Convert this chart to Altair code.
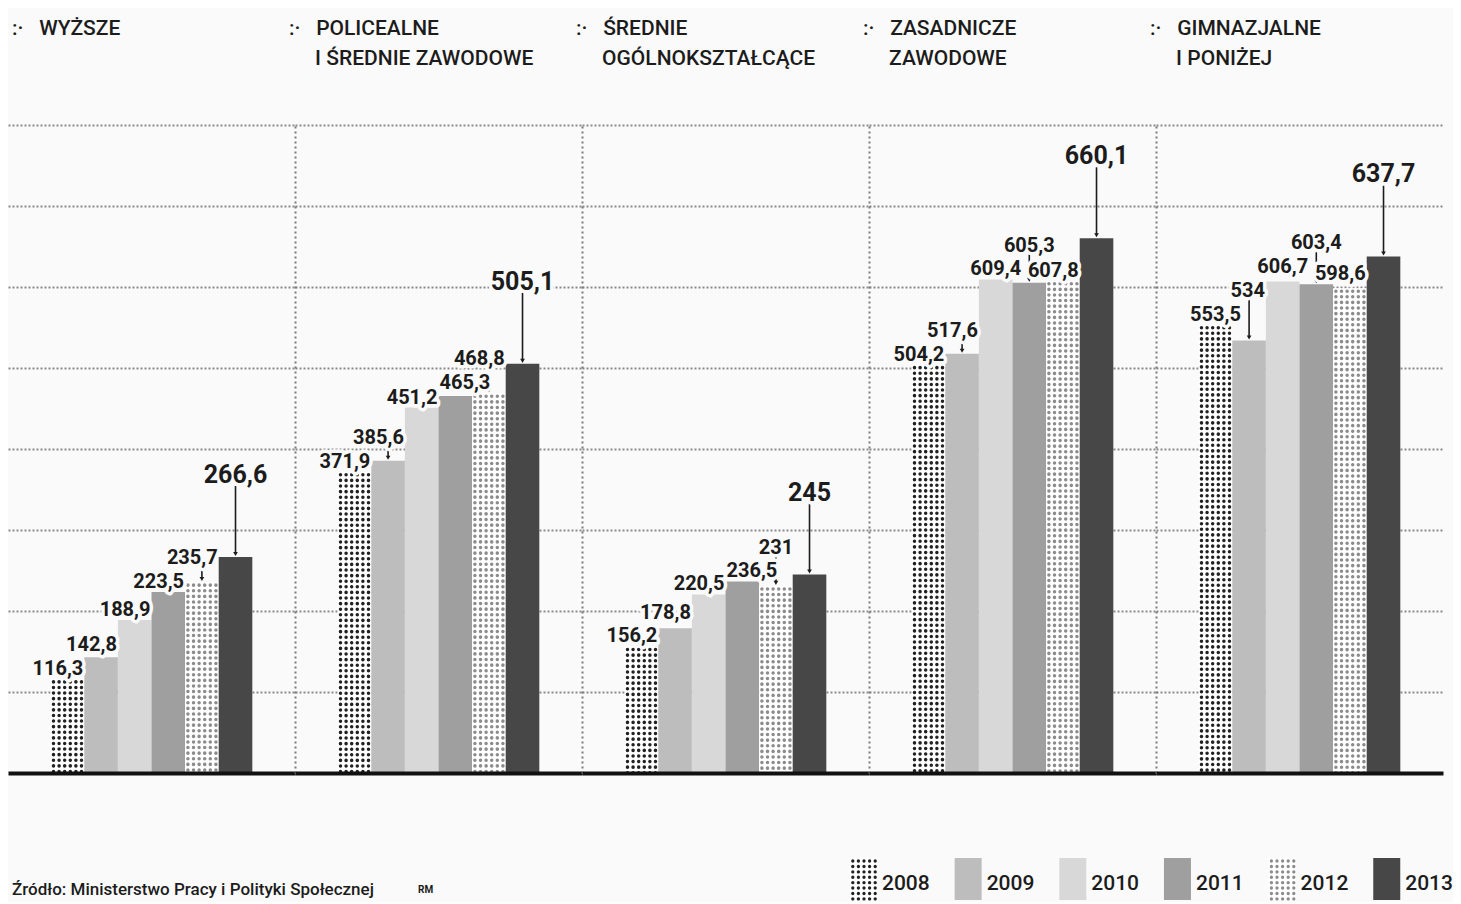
import altair as alt
import pandas as pd

# ---------------- data ----------------
categories = ["WYŻSZE", "POLICEALNE I ŚREDNIE ZAWODOWE", "ŚREDNIE OGÓLNOKSZTAŁCĄCE",
              "ZASADNICZE ZAWODOWE", "GIMNAZJALNE I PONIŻEJ"]
title_lines = [["WYŻSZE"], ["POLICEALNE", "I ŚREDNIE ZAWODOWE"], ["ŚREDNIE", "OGÓLNOKSZTAŁCĄCE"],
               ["ZASADNICZE", "ZAWODOWE"], ["GIMNAZJALNE", "I PONIŻEJ"]]
years = ["2008", "2009", "2010", "2011", "2012", "2013"]
val_wyzsze = [116.3, 142.8, 188.9, 223.5, 235.7, 266.6]
val_policealne = [371.9, 385.6, 451.2, 465.3, 468.8, 505.1]
val_srednie = [156.2, 178.8, 220.5, 236.5, 231.0, 245.0]
val_zasadnicze = [504.2, 517.6, 609.4, 605.3, 607.8, 660.1]
val_gimnazjalne = [553.5, 534.0, 606.7, 603.4, 598.6, 637.7]
series = [val_wyzsze, val_policealne, val_srednie, val_zasadnicze, val_gimnazjalne]
y_ticks = [100, 200, 300, 400, 500, 600, 700, 800]
source_text = "Źródło: Ministerstwo Pracy i Polityki Społecznej"
credit_text = "RM"

# ---------------- style ----------------
FONT = "Roboto, Liberation Sans, sans-serif"
BG = "#fafafa"
INK = "#1c1c1c"
fills = {"2008": "#ffffff", "2009": "#bdbdbd", "2010": "#d8d8d8",
         "2011": "#9f9f9f", "2012": "#ffffff", "2013": "#474747"}
dot_colors = {"2008": "#222222", "2012": "#8c8c8c"}
PANEL_W = 287
PLOT_H = 648
Y_MAX = 800
PAD_OUTER = 0.27          # outer padding of the band scale (plus one empty band each side)
BW = PANEL_W / (8 + 2 * PAD_OUTER)
N_DOT_COLS = 6
FS_LABEL = 20
FS_BIG = 25
GAP = 4
LIFT_BIG = 70
K = PLOT_H / Y_MAX
TITLE_FS = 21
TITLE_LH = 30
TITLE_OFFSET = 56
LEG_H = 42
LEG_PI = 0.742
LEG_START = 842
LEG_STEP = 104.65


def fmt(v):
    return str(int(v)) if float(v).is_integer() else f"{v:.1f}".replace(".", ",")


def text_w(s, size):
    return sum(0.24 if ch in ",." else 0.565 for ch in s) * size + 1


def place(values):
    """Greedy placement of value labels above the bars (pixel space)."""
    tops = [v * K for v in values]
    # obstacles: (x0, x1, y0, y1, is_label)
    bars = [(j * BW, (j + 1) * BW, 0.0, tops[j], False) for j in range(len(values))]
    placed, rows = [], []
    for i, v in enumerate(values):
        s = fmt(v)
        big = years[i] == "2013"
        size = FS_BIG if big else FS_LABEL
        w = text_w(s, size)
        asc, desc = 0.9 * size, 0.24 * size
        c = (i + 0.5) * BW
        best = None
        for pen, align in ((0, "center"), (3, "right"), (6, "left")):
            if align == "center":
                x0 = c - w / 2
            elif align == "right":
                x0 = (i + 1) * BW - 1 - w
            else:
                x0 = i * BW + 1
            x1 = x0 + w
            b = tops[i] + GAP + (LIFT_BIG if big else 0)
            changed = True
            while changed:
                changed = False
                for (ox0, ox1, ob0, ob1, is_lab) in bars + placed:
                    lo = b - desc if is_lab else b
                    g = 1 if is_lab else GAP
                    if x0 < ox1 - 0.5 and x1 > ox0 + 0.5 and lo < ob1 + g - 0.01 and b + asc > ob0 - g:
                        b = ob1 + g + (desc if is_lab else 0)
                        changed = True
            cand = (b + pen, b, align, x0, x1)
            if best is None or cand[0] < best[0]:
                best = cand
        _, b, align, x0, x1 = best
        placed.append((x0, x1, b - desc, b + asc, True))
        lift = b - tops[i]
        rows.append({
            "year": years[i], "value": v, "text": s, "fs": size, "align": align,
            "ytext": b / K, "arrow": bool(lift > GAP + 6),
            "a_top": (b - 3) / K, "a_bot": (tops[i] + 4) / K, "a_head": (tops[i] + 3) / K,
        })
    return rows


def panel(gi):
    vals = series[gi]
    bars = pd.DataFrame({"year": years, "value": vals})
    labels = pd.DataFrame(place(vals))
    dots = pd.DataFrame([{"year": y, "col": c, "top": v - 3.0 / K, "zero": 0}
                         for y, v in zip(years, vals) if y in dot_colors
                         for c in range(N_DOT_COLS)])
    xenc = alt.X("year:N", sort=years,
                 scale=alt.Scale(domain=["_l"] + years + ["_r"], paddingInner=0, paddingOuter=PAD_OUTER),
                 axis=alt.Axis(labels=False, ticks=False, title=None, grid=False,
                               domainColor="#111111", domainWidth=4, zindex=1))
    yscale = alt.Scale(domain=[0, Y_MAX], nice=False, zero=True)
    yaxis = alt.Axis(values=y_ticks, labels=False, ticks=False, title=None, grid=True,
                     gridDash=[2, 2], gridColor="#8a8a8a", gridWidth=2, gridOpacity=1,
                     domain=gi > 0, domainDash=[2, 3], domainColor="#7a7a7a", domainWidth=2)

    bar_layer = alt.Chart(bars).mark_bar().encode(
        x=xenc,
        y=alt.Y("value:Q", scale=yscale, axis=yaxis),
        fill=alt.Fill("year:N", scale=alt.Scale(domain=years, range=[fills[y] for y in years]), legend=None),
    )
    dot_layer = alt.Chart(dots).mark_rule(strokeDash=[0.1, 5.5], strokeCap="round", strokeWidth=3.5).encode(
        x=xenc,
        xOffset=alt.XOffset("col:O", scale=alt.Scale(paddingInner=0, paddingOuter=0)),
        y=alt.Y("top:Q", scale=yscale, axis=yaxis),
        y2="zero:Q",
        stroke=alt.Stroke("year:N", scale=alt.Scale(domain=list(dot_colors), range=list(dot_colors.values())), legend=None),
    )
    arrows = alt.Chart(labels).transform_filter("datum.arrow").mark_rule(strokeWidth=1.6, color=INK).encode(
        x=xenc, y=alt.Y("a_top:Q", scale=yscale, axis=yaxis), y2="a_bot:Q")
    heads = alt.Chart(labels).transform_filter("datum.arrow").mark_point(
        shape="triangle-down", filled=True, size=22, color=INK, opacity=1).encode(
        x=xenc, y=alt.Y("a_head:Q", scale=yscale, axis=yaxis))
    layers = [bar_layer, dot_layer, arrows, heads]
    for align, dx in (("center", 0), ("right", BW / 2 - 1), ("left", -BW / 2 + 1)):
        base = alt.Chart(labels).transform_filter(alt.datum.align == align)
        enc = dict(x=xenc, y=alt.Y("ytext:Q", scale=yscale, axis=yaxis), text="text:N",
                   size=alt.Size("fs:Q", scale=None))
        layers.append(base.mark_text(align=align, baseline="alphabetic", dx=dx, font=FONT,
                                     fontWeight="bold", color=BG, stroke=BG, strokeWidth=7,
                                     strokeJoin="round").encode(**enc))
        layers.append(base.mark_text(align=align, baseline="alphabetic", dx=dx, font=FONT,
                                     fontWeight="bold", color=INK).encode(**enc))
    lines = title_lines[gi]
    ttl = [":·\u00a0\u00a0\u00a0" + lines[0]] + ["\u200b" + "\u00a0" * 5 + t for t in lines[1:]]
    offset = TITLE_OFFSET + TITLE_LH * (2 - len(ttl))
    return alt.layer(*layers).properties(
        width=PANEL_W, height=PLOT_H,
        title=alt.TitleParams(text=ttl if len(ttl) > 1 else ttl[0], anchor="start", font=FONT,
                              fontSize=TITLE_FS, fontWeight=500, color=INK, lineHeight=TITLE_LH,
                              offset=offset, dx=4 if gi == 0 else -6),
    )


top = alt.hconcat(*[panel(i) for i in range(len(categories))], spacing=0, bounds="flush")

# ---------------- bottom: source + legend ----------------
leg = pd.DataFrame({"year": years, "y0": 0.0, "y1": 1.0, "ty": 0.25})
leg_dots = pd.DataFrame([{"year": y, "col": c, "dtop": 1 - 3.0 / LEG_H, "y0": 0.0}
                         for y in dot_colors for c in range(5)])
lscale = alt.Scale(paddingInner=LEG_PI, paddingOuter=0,
                   range=[LEG_START, LEG_START + LEG_STEP * (6 - LEG_PI)])
ly = alt.Scale(domain=[0, 1], nice=False)
xleg = alt.X("year:N", sort=years, scale=lscale, axis=None)
swatch = alt.Chart(leg).mark_bar().encode(
    x=xleg, y=alt.Y("y0:Q", scale=ly, axis=None), y2="y1:Q",
    fill=alt.Fill("year:N", scale=alt.Scale(domain=years, range=[fills[y] for y in years]), legend=None))
sw_dots = alt.Chart(leg_dots).mark_rule(strokeDash=[0.1, 5.3], strokeCap="round", strokeWidth=3.3).encode(
    x=xleg, xOffset=alt.XOffset("col:O", scale=alt.Scale(paddingInner=0, paddingOuter=0)),
    y=alt.Y("dtop:Q", scale=ly, axis=None), y2="y0:Q",
    stroke=alt.Stroke("year:N", scale=alt.Scale(domain=list(dot_colors), range=list(dot_colors.values())), legend=None))
leg_text = alt.Chart(leg).mark_text(align="left", baseline="alphabetic", dx=5, font=FONT,
                                    fontSize=21, fontWeight=500, color=INK).encode(
    x=alt.X("year:N", sort=years, scale=lscale, axis=None, bandPosition=1),
    y=alt.Y("ty:Q", scale=ly, axis=None), text="year:N")
src = alt.Chart(pd.DataFrame({"t": [source_text], "ty": [0.12]})).mark_text(
    align="left", baseline="alphabetic", font=FONT, fontSize=17, fontWeight=500, color=INK).encode(
    x=alt.value(4), y=alt.Y("ty:Q", scale=ly, axis=None), text="t:N")
cred = alt.Chart(pd.DataFrame({"t": [credit_text], "ty": [0.16]})).mark_text(
    align="left", baseline="alphabetic", font=FONT, fontSize=10, fontWeight="bold", color=INK).encode(
    x=alt.value(410), y=alt.Y("ty:Q", scale=ly, axis=None), text="t:N")
bottom = alt.layer(swatch, sw_dots, leg_text, src, cred).properties(width=PANEL_W * 5, height=LEG_H)

chart = alt.vconcat(top, bottom, spacing=83).configure(
    background=BG, padding={"left": 0, "top": 10, "right": 0, "bottom": 0}
).configure_view(stroke=None).configure_axis(minExtent=0)

chart.save("out.html", embed_options={"renderer": "svg", "actions": False})
